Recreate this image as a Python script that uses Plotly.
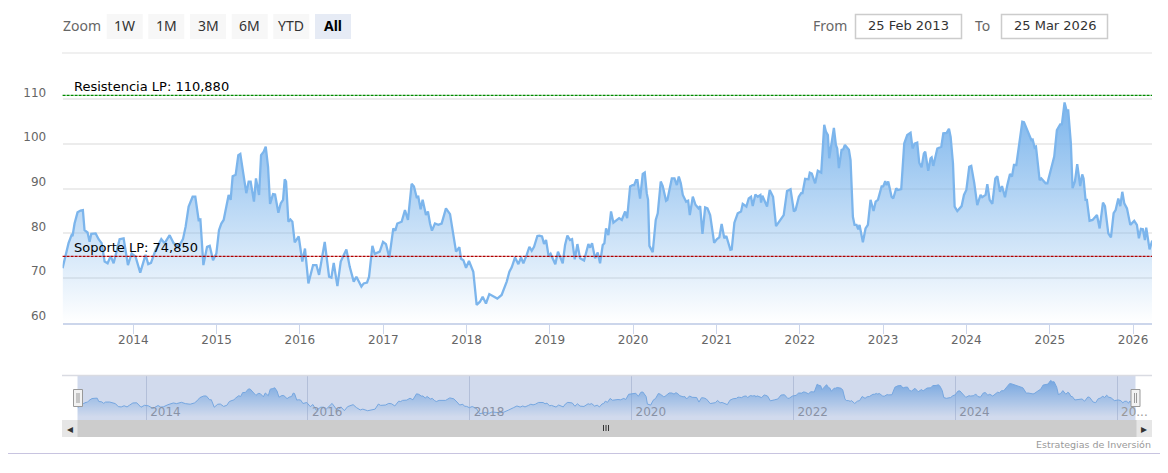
import pandas as pd
import plotly.graph_objects as go

# the page body keeps its default 8px margin, so the figure starts at (8, 8)
PAGE_W, PAGE_H = 1168, 473
OFFSET = 8
W, H = PAGE_W - OFFSET, PAGE_H - OFFSET

# series: decimal year of each vertex and its value
years = [
    2013.150, 2013.186, 2013.222, 2013.258, 2013.270, 2013.294, 2013.330, 2013.366, 2013.394, 2013.414,
    2013.450, 2013.475, 2013.495, 2013.547, 2013.583, 2013.619, 2013.655, 2013.691, 2013.727, 2013.763,
    2013.791, 2013.835, 2013.883, 2013.935, 2013.979, 2014.027, 2014.083, 2014.147, 2014.179, 2014.212,
    2014.268, 2014.336, 2014.376, 2014.436, 2014.484, 2014.544, 2014.596, 2014.628, 2014.664, 2014.712,
    2014.744, 2014.784, 2014.805, 2014.841, 2014.885, 2014.917, 2014.957, 2014.997, 2015.029, 2015.057,
    2015.085, 2015.109, 2015.145, 2015.169, 2015.193, 2015.229, 2015.261, 2015.285, 2015.317, 2015.357,
    2015.385, 2015.409, 2015.449, 2015.473, 2015.510, 2015.534, 2015.566, 2015.590, 2015.618, 2015.642,
    2015.678, 2015.702, 2015.742, 2015.770, 2015.798, 2015.818, 2015.834, 2015.862, 2015.886, 2015.910,
    2015.938, 2015.986, 2016.030, 2016.062, 2016.103, 2016.159, 2016.199, 2016.231, 2016.299, 2016.351,
    2016.379, 2016.407, 2016.451, 2016.491, 2016.559, 2016.599, 2016.647, 2016.679, 2016.739, 2016.767,
    2016.807, 2016.831, 2016.871, 2016.899, 2016.959, 2016.999, 2017.032, 2017.072, 2017.120, 2017.144,
    2017.168, 2017.220, 2017.260, 2017.296, 2017.340, 2017.368, 2017.400, 2017.420, 2017.448, 2017.472,
    2017.512, 2017.536, 2017.561, 2017.584, 2017.620, 2017.660, 2017.700, 2017.752, 2017.801, 2017.841,
    2017.873, 2017.913, 2017.933, 2017.961, 2017.993, 2018.029, 2018.081, 2018.121, 2018.161, 2018.193,
    2018.233, 2018.273, 2018.369, 2018.421, 2018.482, 2018.514, 2018.542, 2018.582, 2018.622, 2018.654,
    2018.682, 2018.722, 2018.754, 2018.782, 2018.810, 2018.850, 2018.874, 2018.906, 2018.930, 2018.954,
    2018.986, 2019.010, 2019.066, 2019.098, 2019.155, 2019.183, 2019.211, 2019.243, 2019.267, 2019.299,
    2019.331, 2019.363, 2019.411, 2019.463, 2019.483, 2019.507, 2019.543, 2019.575, 2019.603, 2019.635,
    2019.655, 2019.675, 2019.703, 2019.735, 2019.763, 2019.832, 2019.864, 2019.904, 2019.928, 2019.964,
    2019.992, 2020.012, 2020.036, 2020.052, 2020.084, 2020.116, 2020.140, 2020.164, 2020.180, 2020.196,
    2020.236, 2020.272, 2020.296, 2020.332, 2020.356, 2020.396, 2020.412, 2020.465, 2020.497, 2020.525,
    2020.549, 2020.573, 2020.597, 2020.637, 2020.661, 2020.681, 2020.717, 2020.749, 2020.785, 2020.805,
    2020.833, 2020.865, 2020.893, 2020.925, 2020.973, 2021.005, 2021.033, 2021.061, 2021.093, 2021.117,
    2021.166, 2021.182, 2021.214, 2021.254, 2021.294, 2021.314, 2021.334, 2021.358, 2021.386, 2021.414,
    2021.434, 2021.466, 2021.494, 2021.526, 2021.534, 2021.550, 2021.606, 2021.638, 2021.678, 2021.714,
    2021.766, 2021.806, 2021.846, 2021.888, 2021.928, 2021.948, 2021.988, 2022.016, 2022.032, 2022.064,
    2022.104, 2022.120, 2022.144, 2022.184, 2022.216, 2022.257, 2022.293, 2022.313, 2022.337, 2022.353,
    2022.409, 2022.433, 2022.449, 2022.469, 2022.501, 2022.521, 2022.541, 2022.589, 2022.609, 2022.637,
    2022.657, 2022.681, 2022.701, 2022.717, 2022.757, 2022.789, 2022.817, 2022.849, 2022.885, 2022.910,
    2022.938, 2022.982, 2023.002, 2023.026, 2023.042, 2023.062, 2023.102, 2023.122, 2023.158, 2023.178,
    2023.218, 2023.254, 2023.290, 2023.330, 2023.354, 2023.378, 2023.410, 2023.434, 2023.462, 2023.490,
    2023.506, 2023.542, 2023.570, 2023.583, 2023.603, 2023.651, 2023.699, 2023.723, 2023.763, 2023.791,
    2023.811, 2023.839, 2023.859, 2023.891, 2023.943, 2023.971, 2024.000, 2024.035, 2024.059, 2024.095,
    2024.131, 2024.171, 2024.191, 2024.231, 2024.252, 2024.280, 2024.312, 2024.348, 2024.372, 2024.404,
    2024.428, 2024.464, 2024.492, 2024.524, 2024.548, 2024.572, 2024.600, 2024.672, 2024.692, 2024.740,
    2024.780, 2024.796, 2024.820, 2024.836, 2024.880, 2024.900, 2024.952, 2024.973, 2025.033, 2025.053,
    2025.085, 2025.125, 2025.145, 2025.177, 2025.201, 2025.221, 2025.253, 2025.273, 2025.301, 2025.329,
    2025.365, 2025.389, 2025.405, 2025.429, 2025.445, 2025.477, 2025.513, 2025.566, 2025.598, 2025.638,
    2025.662, 2025.702, 2025.734, 2025.766, 2025.790, 2025.822, 2025.846, 2025.870, 2025.894, 2025.926,
    2025.966, 2026.014, 2026.046, 2026.070, 2026.094, 2026.118, 2026.142, 2026.158, 2026.198, 2026.230,
]
values = [
    72.2, 75.2, 77.8, 79.6, 79.4, 82.2, 84.7, 85.1, 85.2, 80.7,
    80.2, 78.1, 79.9, 80.0, 78.7, 77.8, 73.7, 73.3, 74.9, 73.3,
    75.5, 78.7, 78.9, 72.9, 75.5, 74.8, 71.2, 75.2, 73.1, 73.4,
    76.3, 78.7, 77.8, 79.6, 77.8, 77.0, 78.7, 81.5, 86.0, 88.2,
    88.2, 83.0, 83.1, 72.9, 77.0, 77.2, 74.0, 75.5, 80.7, 82.2,
    83.0, 85.6, 88.6, 87.5, 92.8, 93.1, 97.5, 97.8, 94.2, 89.0,
    91.6, 91.6, 87.1, 92.3, 88.6, 97.5, 98.3, 99.4, 94.9, 86.6,
    88.8, 88.7, 84.6, 86.7, 87.5, 92.1, 91.6, 82.6, 83.1, 82.6,
    78.0, 79.3, 73.7, 76.6, 68.8, 72.9, 72.9, 70.7, 78.1, 70.3,
    70.1, 73.4, 68.2, 73.7, 76.4, 72.5, 69.2, 70.3, 68.1, 68.8,
    69.0, 70.3, 77.2, 75.4, 75.9, 78.1, 77.6, 74.6, 81.1, 80.6,
    82.2, 82.6, 85.2, 83.0, 91.1, 90.5, 88.1, 88.2, 85.4, 87.5,
    84.1, 84.9, 82.2, 80.6, 82.2, 81.9, 82.2, 85.6, 84.3, 80.0,
    75.9, 76.9, 74.3, 74.0, 72.3, 73.8, 71.4, 64.0, 64.7, 65.8,
    64.3, 66.4, 65.4, 66.2, 69.2, 71.4, 72.4, 74.6, 73.1, 74.6,
    73.3, 75.2, 77.0, 76.1, 77.0, 79.4, 79.5, 79.3, 77.6, 78.5,
    74.8, 75.4, 73.1, 75.9, 73.3, 77.4, 79.5, 78.5, 78.7, 74.2,
    77.6, 74.4, 73.9, 77.6, 76.8, 77.8, 74.4, 75.7, 73.3, 77.4,
    77.8, 81.1, 79.6, 84.9, 82.4, 83.4, 83.0, 84.9, 83.4, 90.5,
    90.8, 90.8, 91.9, 91.9, 87.8, 93.3, 93.6, 89.0, 87.5, 77.2,
    75.8, 83.0, 84.5, 91.6, 90.6, 87.3, 87.5, 92.3, 92.3, 90.8,
    92.7, 91.2, 88.6, 87.1, 87.3, 84.1, 88.2, 86.4, 85.6, 86.1,
    79.9, 85.8, 85.6, 84.1, 77.9, 78.7, 79.1, 82.1, 78.9, 79.4,
    76.3, 76.4, 82.4, 84.5, 84.9, 86.6, 86.4, 86.0, 87.8, 88.2,
    86.1, 88.7, 88.2, 88.6, 86.9, 88.4, 86.0, 89.7, 88.2, 81.6,
    83.0, 84.1, 89.5, 89.9, 84.9, 85.2, 88.2, 89.0, 89.0, 92.2,
    92.1, 93.6, 93.4, 91.2, 94.0, 93.6, 104.3, 102.8, 102.0, 96.8,
    103.6, 99.8, 99.0, 94.6, 98.7, 98.8, 99.8, 98.7, 96.4, 83.7,
    81.9, 81.9, 80.9, 81.9, 78.0, 81.1, 81.9, 87.5, 85.0, 87.1,
    87.5, 90.5, 90.5, 91.7, 90.8, 91.6, 88.2, 87.8, 90.1, 89.7,
    89.9, 100.1, 102.0, 102.5, 99.0, 100.1, 100.3, 95.8, 94.8, 97.9,
    98.3, 94.0, 96.8, 97.0, 95.1, 99.0, 99.4, 102.4, 102.5, 103.4,
    101.6, 95.7, 86.0, 85.0, 86.1, 88.6, 89.7, 94.9, 95.1, 91.3,
    86.3, 88.6, 88.1, 88.6, 91.0, 87.5, 86.6, 92.3, 92.8, 89.3,
    90.6, 88.1, 90.8, 93.3, 92.7, 95.3, 95.3, 105.0, 104.9, 102.8,
    100.9, 101.0, 99.2, 99.4, 91.9, 92.3, 91.2, 91.2, 96.0, 97.2,
    103.1, 104.4, 104.4, 109.3, 107.5, 107.5, 100.1, 90.1, 91.6, 95.5,
    90.6, 93.2, 92.3, 87.5, 87.5, 82.8, 83.0, 84.1, 81.1, 86.9,
    86.1, 80.0, 79.1, 84.5, 85.2, 87.8, 86.1, 89.3, 86.7, 85.6,
    81.9, 82.8, 81.9, 78.9, 81.0, 80.9, 78.5, 81.3, 76.4, 78.4,
]

resistance = 110.88
support = 74.85
resistance_label = "Resistencia LP: 110,880"
support_label = "Soporte LP: 74,850"

y_ticks = [60, 70, 80, 90, 100, 110]
x_tick_years = [2014, 2015, 2016, 2017, 2018, 2019, 2020, 2021, 2022, 2023, 2024, 2025, 2026]
nav_tick_years = [2014, 2016, 2018, 2020, 2022, 2024, 2026]
nav_tick_labels = ["2014", "2016", "2018", "2020", "2022", "2024", ""]
nav_last_label = "20..."
zoom_buttons = ["1W", "1M", "3M", "6M", "YTD", "All"]
date_from = "25 Feb 2013"
date_to = "25 Mar 2026"

START, END = "2013-02-25", "2026-03-25"
FONT = "DejaVu Sans"
UI_FONT = "Noto Sans"


def to_date(year):
    whole = int(year)
    return pd.Timestamp(whole, 1, 1) + pd.Timedelta(days=(year - whole) * 365.25)


def px(x):
    return (x - OFFSET) / W


def py(y):
    return 1 - (y - OFFSET) / H


dates = [to_date(y) for y in years]
stop_value = max(values)


def area(xaxis, yaxis, width):
    return go.Scatter(
        x=dates, y=values, xaxis=xaxis, yaxis=yaxis, mode="lines",
        line=dict(color="#7cb5ec", width=width),
        fill="tozeroy",
        fillgradient=dict(
            type="vertical", start=60, stop=stop_value,
            colorscale=[[0, "rgba(124,181,236,0)"], [1, "rgba(124,181,236,1)"]],
        ),
        hoverinfo="skip",
    )


fig = go.Figure([area("x", "y", 2.3), area("x2", "y2", 1)])

fig.update_layout(
    width=W, height=H, autosize=False,
    margin=dict(l=0, r=0, t=0, b=0, autoexpand=False),
    showlegend=False,
    paper_bgcolor="white", plot_bgcolor="white",
    font=dict(family=FONT, size=12, color="#666666"),
    xaxis=dict(
        domain=[px(62.6), px(1152)], range=[START, END], type="date", anchor="y", automargin=False,
        tickmode="array", tickvals=[f"{y}-01-01" for y in x_tick_years], ticktext=[str(y) for y in x_tick_years],
        ticks="outside", ticklen=10, tickcolor="#ccd6eb", tickwidth=1, ticklabelstandoff=-5,
        showline=True, linecolor="#ccd6eb", linewidth=1.5, showgrid=False, zeroline=False,
    ),
    yaxis=dict(
        domain=[py(322.7), py(90.4)], range=[60, 112], anchor="x", automargin=False,
        tickmode="array", tickvals=y_ticks,
        ticklabelposition="outside top", ticks="outside", ticklen=16, tickcolor="rgba(0,0,0,0)",
        ticklabelstandoff=13, ticklabelshift=2,
        gridcolor="#ececec", gridwidth=1.5, showline=False, zeroline=False,
    ),
    xaxis2=dict(
        domain=[px(77.5), px(1135.5)], range=[START, END], type="date", anchor="y2", automargin=False,
        tickmode="array", tickvals=[f"{y}-01-01" for y in nav_tick_years], ticktext=nav_tick_labels,
        ticklabelposition="inside right", ticks="", tickfont=dict(color="#999999", size=12),
        ticklabelstandoff=-4, ticklabelshift=4,
        showgrid=True, gridcolor="#d5d8e2", gridwidth=1, showline=False, zeroline=False,
    ),
    yaxis2=dict(
        domain=[py(420), py(376)], range=[55.5, 115.4], anchor="x2", automargin=False,
        visible=False,
    ),
)

shapes = []
annotations = []


def rect(x0, y0, x1, y1, fill, line=None, lw=1, layer="above"):
    shapes.append(dict(
        type="rect", xref="paper", yref="paper", layer=layer,
        x0=px(x0), x1=px(x1), y0=py(y0), y1=py(y1), fillcolor=fill,
        line=dict(color=line or fill, width=lw if line else 0),
    ))


def hline(x0, x1, y, color, lw=1):
    shapes.append(dict(
        type="line", xref="paper", yref="paper", layer="above",
        x0=px(x0), x1=px(x1), y0=py(y), y1=py(y), line=dict(color=color, width=lw),
    ))


def vline(x, y0, y1, color, lw=1):
    shapes.append(dict(
        type="line", xref="paper", yref="paper", layer="above",
        x0=px(x), x1=px(x), y0=py(y0), y1=py(y1), line=dict(color=color, width=lw),
    ))


def label(x, y, text, color="#333333", size=13, anchor="center", family=UI_FONT, bold=False):
    annotations.append(dict(
        xref="paper", yref="paper", x=px(x), y=py(y), text=f"<b>{text}</b>" if bold else text,
        showarrow=False, xanchor=anchor, yanchor="middle",
        font=dict(family=family, size=size, color=color),
    ))


# level lines
for level, color in ((resistance, "#008a00"), (support, "#b00000")):
    shapes.append(dict(
        type="line", xref="x domain", yref="y", x0=0, x1=1, y0=level, y1=level, layer="above",
        line=dict(color=color, width=1.2, dash="3px,1px"),
    ))
for level, text in ((resistance, resistance_label), (support, support_label)):
    annotations.append(dict(
        xref="paper", yref="y", x=px(72), y=level, text=text, showarrow=False,
        xanchor="left", yanchor="bottom", yshift=-1,
        font=dict(family=FONT, size=13, color="#000000"),
    ))

# range selector row
hline(62, 1152, 53, "#f0f0f0", 2)
label(61, 26, "Zoom", color="#666666", size=14, anchor="left")
button_edges = [106.7, 148.3, 190, 231.7, 273.3, 315]
for edge, text in zip(button_edges, zoom_buttons):
    active = text == "All"
    rect(edge, 14, edge + 36, 39, "#e6ebf5" if active else "#f7f7f7")
    label(edge + 18, 26, text, color="#000000" if active else "#333333", size=14, bold=active)

label(849, 25, "From", color="#666666", size=14, anchor="right")
rect(855.5, 14.5, 961.5, 38.5, "white", "#cccccc", 1.5)
label(908.5, 25.5, date_from, size=13, family=FONT)
label(992, 25, "To", color="#666666", size=14, anchor="right")
rect(1001.5, 14.5, 1107.5, 38.5, "white", "#cccccc", 1.5)
label(1054.5, 25.5, date_to, size=13, family=FONT)

# navigator: selection mask, outline, handles
rect(77.5, 376, 1135.5, 420, "rgba(102,133,194,0.3)")
hline(62, 1152, 375.5, "#d9dbe2", 1.5)
label(1119, 411.5, nav_last_label, color="#999999", size=12, anchor="left", family=FONT)
for left in (73.5, 1131):
    rect(left, 389.5, left + 9, 406.5, "#f2f2f2", "#999999", 1)
    vline(left + 3.5, 393, 403, "#999999")
    vline(left + 5.5, 393, 403, "#999999")

# scrollbar
rect(62, 420, 1152, 437, "#cccccc")
rect(62, 420, 77.5, 437, "#e6e6e6")
rect(1136.5, 420, 1152, 437, "#e6e6e6")
for x in (69.8, 1144.2):
    label(x, 428.5, "◂" if x < 100 else "▸", color="#333333", size=12, family=FONT)
for x in (603.5, 606, 608.5):
    vline(x, 425, 431, "#333333")

label(1153, 444, "Estrategias de Inversión", color="#999999", size=9.5, anchor="right", family=FONT)
hline(8, 1163, 453.5, "#c8c4e0", 1)

fig.update_layout(shapes=shapes, annotations=annotations)

fig.write_html("out.html")
